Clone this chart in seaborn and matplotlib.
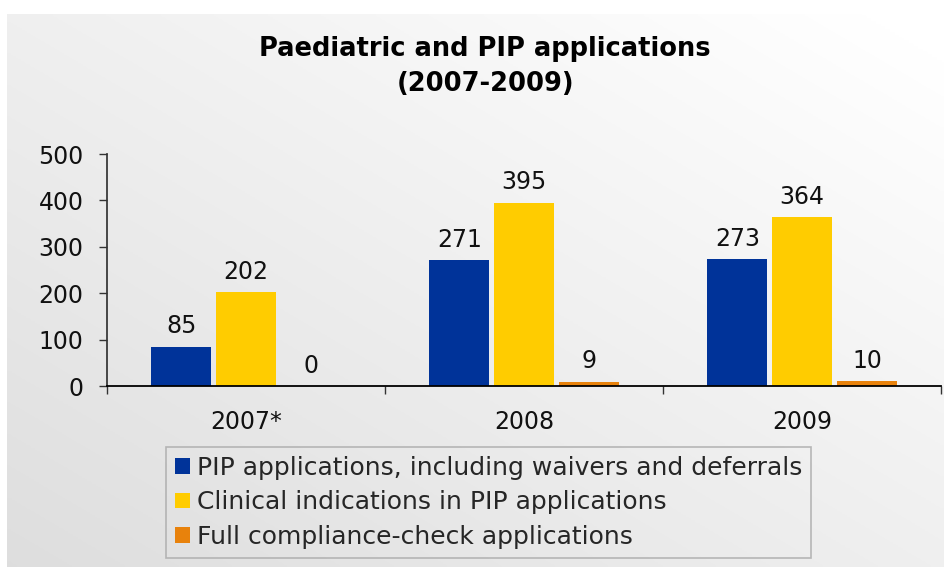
import numpy as np
import pandas as pd
import matplotlib
matplotlib.use("Agg")
import matplotlib.pyplot as plt
from matplotlib.ticker import FixedLocator
import seaborn as sns

# data
years = ["2007*", "2008", "2009"]
series = [
    "PIP applications, including waivers and deferrals",
    "Clinical indications in PIP applications",
    "Full compliance-check applications",
]
pip_apps = [85, 271, 273]
clinical = [202, 395, 364]
compliance = [0, 9, 10]
colors = ["#003399", "#FFCC00", "#E8820C"]

df = pd.DataFrame({
    "year": years * 3,
    "series": [series[0]] * 3 + [series[1]] * 3 + [series[2]] * 3,
    "value": pip_apps + clinical + compliance,
})

sns.set_theme(style="white")
plt.rcParams["font.family"] = ["DejaVu Sans"]

W, H = 944, 567
fig = plt.figure(figsize=(W / 100, H / 100), dpi=100)

# gradient panel behind the chart
x0, y0 = 7 / W, 14 / H
bg = fig.add_axes([x0, 0, 1 - x0, 1 - y0], zorder=-1)
u = np.linspace(0, 1, 200)
v = np.linspace(1, 0, 200)
U, V = np.meshgrid(u, v)
g = np.clip(0.87 + 0.068 * (U + V), 0, 1)
bg.imshow(np.dstack([g, g, g]), aspect="auto", extent=[0, 1, 0, 1])
bg.set_axis_off()

ax = fig.add_axes([107 / W, 1 - 386 / H, 1 - 107 / W - 0.003, (386 - 154) / H])
ax.patch.set_alpha(0)

sns.barplot(data=df, x="year", y="value", hue="series", palette=colors,
            width=0.7, gap=0.08, saturation=1, linewidth=0, ax=ax, legend=True)

for cont in ax.containers:
    ax.bar_label(cont, fmt="%d", padding=6, fontsize=17, color="#111111")

ax.set_xlim(-0.5, 2.5)
ax.set_ylim(0, 500)
ax.set_yticks([0, 100, 200, 300, 400, 500])
ax.set_xlabel("")
ax.set_ylabel("")
ax.tick_params(axis="y", labelsize=17, length=6, width=1, color="#333333",
               left=True, pad=11, labelcolor="#111111")
ax.tick_params(axis="x", which="major", labelsize=17, length=0, pad=17,
               labelcolor="#111111")
ax.xaxis.set_minor_locator(FixedLocator([-0.5, 0.5, 1.5, 2.5]))
ax.tick_params(axis="x", which="minor", length=6, width=1, color="#333333",
               bottom=True)
for side in ["top", "right"]:
    ax.spines[side].set_visible(False)
ax.spines["left"].set_color("#333333")
ax.spines["bottom"].set_color("#000000")
ax.spines["bottom"].set_linewidth(1.3)

handles, labels = ax.get_legend_handles_labels()
ax.legend_.remove()
leg = fig.legend(handles, labels, loc="upper left",
                 bbox_to_anchor=(166 / W, 1 - 447 / H), borderaxespad=0,
                 fontsize=18, handlelength=0.6, handleheight=0.6,
                 handletextpad=0.3, labelspacing=0.42, borderpad=0.35,
                 fancybox=False, frameon=True, edgecolor="#a8a8a8",
                 facecolor="none")
leg.get_frame().set_linewidth(1.2)

fig.text(0.514, 1 - 36 / H, "Paediatric and PIP applications\n(2007-2009)",
         ha="center", va="top", fontsize=18.5, fontweight="bold",
         linespacing=1.45, color="#000000")

fig.savefig("out.png", dpi=100)
